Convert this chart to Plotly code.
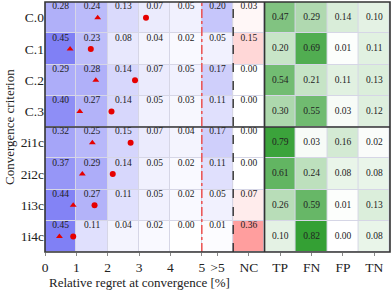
import plotly.graph_objects as go

rows = ["C.0", "C.1", "C.2", "C.3", "2i1c", "2i2c", "1i3c", "1i4c"]
regret_bins = ["0-1", "1-2", "2-3", "3-4", "4-5", ">5"]

regret = [
    [0.28, 0.24, 0.13, 0.07, 0.05, 0.20],
    [0.45, 0.23, 0.08, 0.04, 0.02, 0.05],
    [0.29, 0.28, 0.14, 0.07, 0.05, 0.17],
    [0.40, 0.27, 0.14, 0.05, 0.03, 0.11],
    [0.32, 0.25, 0.15, 0.07, 0.04, 0.17],
    [0.37, 0.29, 0.14, 0.05, 0.02, 0.11],
    [0.44, 0.27, 0.11, 0.05, 0.02, 0.05],
    [0.45, 0.11, 0.04, 0.02, 0.00, 0.01],
]
nc = [0.03, 0.15, 0.00, 0.00, 0.00, 0.00, 0.07, 0.36]
cls_labels = ["TP", "FN", "FP", "TN"]
cls = [
    [0.47, 0.29, 0.14, 0.10],
    [0.20, 0.69, 0.01, 0.11],
    [0.54, 0.21, 0.11, 0.13],
    [0.30, 0.55, 0.03, 0.12],
    [0.79, 0.03, 0.16, 0.02],
    [0.61, 0.24, 0.08, 0.08],
    [0.26, 0.59, 0.01, 0.13],
    [0.10, 0.82, 0.00, 0.08],
]
tri_regret = [1.68, 0.80, 1.62, 1.11, 1.51, 1.19, 0.90, 0.46]
circ_regret = [3.22, 1.46, 2.87, 2.12, 2.73, 2.16, 1.58, 0.90]

tick_vals = [0, 1, 2, 3, 4, 5, 5.5, 6.5, 7.5, 8.5, 9.5, 10.5]
tick_text = ["0", "1", "2", "3", "4", "5", ">5", "NC"] + cls_labels

FONT = "Liberation Serif"
yidx = list(range(len(rows)))

fig = go.Figure()

common = dict(xgap=1, ygap=1, showscale=False, hoverinfo="skip")
fig.add_trace(go.Heatmap(
    z=regret, x=[i + 0.5 for i in range(6)], y=yidx,
    colorscale=[[0, "rgb(255,255,255)"], [1, "rgb(125,125,245)"]],
    zmin=0, zmax=0.46, **common))
fig.add_trace(go.Heatmap(
    z=[[v] for v in nc], x=[6.5], y=yidx,
    colorscale=[[0, "rgb(255,255,255)"], [1, "rgb(255,158,158)"]],
    zmin=0, zmax=0.36, **common))
fig.add_trace(go.Heatmap(
    z=cls, x=[7.5, 8.5, 9.5, 10.5], y=yidx,
    colorscale=[[0, "rgb(255,255,255)"], [0.5, "rgb(140,200,140)"], [1, "rgb(48,158,48)"]],
    zmin=0, zmax=0.84, **common))

# cell texts
tx, ty, tt = [], [], []
for i, r in enumerate(regret):
    for j, v in enumerate(r):
        tx.append(j + 0.5); ty.append(i - 0.34); tt.append(f"{v:.2f}")
    tx.append(6.5); ty.append(i - 0.34); tt.append(f"{nc[i]:.2f}")
fig.add_trace(go.Scatter(x=tx, y=ty, text=tt, mode="text",
                         textfont=dict(family=FONT, size=9.5, color="#222"),
                         hoverinfo="skip", showlegend=False))
cx, cy, ct = [], [], []
for i, r in enumerate(cls):
    for j, v in enumerate(r):
        cx.append(7.5 + j); cy.append(i); ct.append(f"{v:.2f}")
fig.add_trace(go.Scatter(x=cx, y=cy, text=ct, mode="text",
                         textfont=dict(family=FONT, size=9.5, color="#222"),
                         hoverinfo="skip", showlegend=False))

fig.add_trace(go.Scatter(x=tri_regret, y=yidx, mode="markers",
                         marker=dict(symbol="triangle-up", size=6, color="#e60000"),
                         showlegend=False))
fig.add_trace(go.Scatter(x=circ_regret, y=yidx, mode="markers",
                         marker=dict(symbol="circle", size=6, color="#e60000"),
                         showlegend=False))

shapes = [
    dict(type="line", xref="x", yref="paper", x0=5, x1=5, y0=0, y1=1,
         line=dict(color="rgb(235,80,80)", width=1.5, dash="dashdot")),
    dict(type="line", xref="x", yref="paper", x0=6, x1=6, y0=0, y1=1,
         line=dict(color="#222", width=1.3, dash="dash")),
    dict(type="line", xref="x", yref="paper", x0=7, x1=7, y0=0, y1=1,
         line=dict(color="#333", width=1.6)),
    dict(type="line", xref="paper", yref="y", x0=0, x1=1, y0=3.5, y1=3.5,
         line=dict(color="#333", width=1.6)),
    dict(type="rect", xref="paper", yref="paper", x0=0, x1=1, y0=0, y1=1,
         line=dict(color="#333", width=1.6)),
]

fig.update_layout(
    width=392, height=291,
    margin=dict(l=45, r=2, t=2, b=39, autoexpand=False),
    plot_bgcolor="rgb(214,214,230)", paper_bgcolor="white",
    showlegend=False, shapes=shapes,
    font=dict(family=FONT, size=13, color="#222"),
    xaxis=dict(range=[0, 11], tickvals=tick_vals, ticktext=tick_text,
               ticks="outside", ticklen=3, tickcolor="#888", showgrid=False,
               zeroline=False, showline=False, tickfont=dict(size=13.5),
               automargin=False),
    yaxis=dict(range=[7.5, -0.5], tickvals=yidx, ticktext=rows, showgrid=False,
               zeroline=False, showline=False, ticks="", tickfont=dict(size=13.5),
               automargin=False),
    annotations=[
        dict(text="Relative regret at convergence [%]", xref="x", yref="paper",
             x=3, y=0, yshift=-30, yanchor="middle", showarrow=False,
             font=dict(size=13)),
        dict(text="Convergence criterion", xref="paper", yref="paper",
             x=0, xshift=-36, y=0.5, textangle=-90, showarrow=False,
             xanchor="center", yanchor="middle", font=dict(size=13)),
    ],
)

fig.write_html("out.html", config={"displayModeBar": False},
               post_script="document.body.style.margin='0';document.body.style.overflow='hidden';")
